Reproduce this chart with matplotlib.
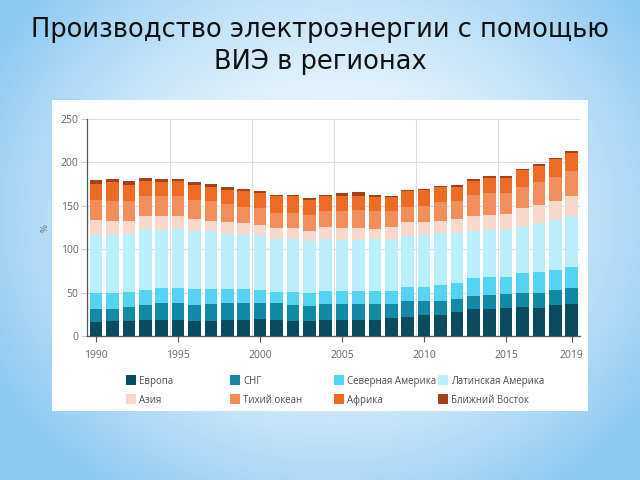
import numpy as np
import matplotlib
matplotlib.use("Agg")
import matplotlib.pyplot as plt
from matplotlib.patches import Rectangle

years = list(range(1990, 2020))
regions = ["Европа", "СНГ", "Северная Америка", "Латинская Америка",
           "Азия", "Тихий океан", "Африка", "Ближний Восток"]
colors = ["#0b4b5f", "#1489a6", "#56d2f2", "#bbeefb",
          "#f8d8ca", "#f28d5c", "#ee6b25", "#a4401a"]

europe = [16.5, 17, 17.7, 18.5, 18.5, 18.5, 17.7, 17.7, 18.5, 19, 20, 18.5, 17.7, 17, 18.5,
          18.5, 18.5, 19, 20.4, 22.3, 24, 24, 27.7, 30.8, 31.5, 32.3, 33, 32, 35.4, 37]
cis = [14.3, 14.5, 15.3, 17.3, 19.2, 19.2, 17.7, 19.3, 19.2, 18.7, 17.7, 19.2, 18.3, 17.6, 18.5,
       18.5, 18.5, 18, 16.6, 17.7, 16, 16, 15.3, 15.2, 15.8, 16.2, 17, 18, 17.6, 18]
north_america = [19.2, 17.5, 18, 17.2, 17.3, 17.3, 18.6, 17, 16.3, 16.3, 15.3, 13.3, 15, 15.4, 15,
                 15, 15, 15, 15, 17, 17, 19, 18.5, 20.5, 20.4, 20, 22.3, 23.8, 23, 24]
latin_america = [66.5, 67.5, 66, 70, 67, 68, 67.5, 67, 63, 62.5, 63, 60.5, 60.5, 59, 59.5,
                 58.8, 58.8, 59.5, 58.8, 58.4, 59.5, 59.5, 57, 54.5, 54.3, 53.5, 53.7, 56.2, 58, 59.5]
asia = [17.5, 16.5, 16, 15.5, 15.7, 15.5, 13.1, 12, 13.8, 13.5, 11.7, 12.5, 12.5, 12.5, 13.9,
        13.2, 13.2, 11.5, 14.6, 15.4, 14.3, 14.5, 16.1, 17.5, 17.6, 18.8, 21, 21, 21.8, 22.5]
pacific = [23, 23, 22, 22.5, 23.3, 22.5, 22.4, 22, 21.2, 19, 19.3, 18, 18, 18.1, 18.1,
           20, 20.6, 20.5, 18.1, 18.2, 19.2, 21, 20.4, 23.5, 25, 23.8, 24.5, 26, 27.2, 28.6]
africa = [18, 21.7, 18.5, 18, 16.7, 17, 17, 16.5, 16.5, 17.5, 17.6, 18.8, 18.8, 17.4, 17.3,
          16.8, 16.2, 16.1, 16.5, 17.5, 17.7, 17.5, 16.5, 17, 17.4, 17.4, 19.3, 19, 21, 21.2]
middle_east = [5, 3.3, 5, 3.3, 3.3, 3, 3, 3.1, 3, 2.5, 2.4, 2.2, 2.2, 2, 1.9,
               3.8, 4.6, 3.1, 0.8, 1.2, 1.3, 1.5, 2.5, 2, 2, 2, 1.5, 1.7, 1, 2.2]
series = [europe, cis, north_america, latin_america, asia, pacific, africa, middle_east]

xtick_years = [1990, 1995, 2000, 2005, 2010, 2015, 2019]
yticks = [0, 50, 100, 150, 200, 250]
title = "Производство электроэнергии с помощью\nВИЭ в регионах"

W, H = 640, 480
fig = plt.figure(figsize=(6.4, 4.8), dpi=100)

# background radial gradient
bg = fig.add_axes([0, 0, 1, 1], zorder=-10)
yy, xx = np.mgrid[0:H, 0:W]
r = np.sqrt(((xx - 330) / 380.0) ** 2 + ((yy - 215) / 330.0) ** 2)
t = np.clip(r, 0, 1) ** 1.6
c0 = np.array([0.97, 0.99, 1.0])
c1 = np.array([0.56, 0.79, 0.95])
img = c0[None, None, :] * (1 - t[..., None]) + c1[None, None, :] * t[..., None]
bg.imshow(img, extent=[0, W, H, 0], aspect="auto", interpolation="bilinear")
bg.set_xlim(0, W)
bg.set_ylim(H, 0)
bg.axis("off")

def fx(px):
    return px / W

def fy(py):
    return 1 - py / H

# white panel
fig.patches.append(Rectangle((fx(52), fy(411)), fx(588) - fx(52), fy(100) - fy(411),
                             transform=fig.transFigure, facecolor="white",
                             edgecolor="none", zorder=-5))

fig.text(0.5, fy(46), title, ha="center", va="center", fontsize=18.5,
         color="#111111", family="DejaVu Sans", linespacing=1.3)

small_font = "Open Sans"

ax = fig.add_axes([fx(87), fy(336), fx(580) - fx(87), fy(119) - fy(336)])
ax.set_facecolor("none")
x = np.array(years)
bottom = np.zeros(len(years))
for name, vals, col in zip(regions, series, colors):
    v = np.array(vals, dtype=float)
    ax.bar(x, v, bottom=bottom, width=0.77, color=col, label=name, zorder=3)
    bottom += v

ax.set_xlim(1989.45, 2019.5)
ax.set_ylim(0, 250)
ax.set_yticks(yticks)
ax.set_xticks(xtick_years)
ax.set_xticklabels([str(y) for y in xtick_years])
for gx in np.arange(1994.5, 2020, 5):
    ax.axvline(gx, color="#dddddd", lw=0.8, zorder=1)
ax.yaxis.grid(True, color="#dddddd", lw=0.8, zorder=1)
for s in ["top", "right"]:
    ax.spines[s].set_visible(False)
for s in ["left", "bottom"]:
    ax.spines[s].set_color("#555555")
    ax.spines[s].set_linewidth(0.9)
ax.tick_params(axis="y", length=4, color="#cccccc", labelsize=7.5, labelcolor="#666666", pad=2)
ax.tick_params(axis="x", length=4, color="#555555", labelsize=7.5, labelcolor="#666666", pad=6)
for lab in ax.get_xticklabels() + ax.get_yticklabels():
    lab.set_family(small_font)
ax.set_ylabel("%", fontsize=6, color="#666666", labelpad=8)

# legend (manual, row-major)
col_x = [131, 235, 339, 443]
row_y = [380, 399]
for i, (name, col) in enumerate(zip(regions, colors)):
    r_, c_ = divmod(i, 4)
    px, py = col_x[c_], row_y[r_]
    fig.patches.append(Rectangle((fx(px - 5), fy(py + 5)), 10 / W, 10 / H,
                                 transform=fig.transFigure, facecolor=col,
                                 edgecolor="none"))
    fig.text(fx(px + 8), fy(py + 3.7), name, ha="left", va="baseline", fontsize=6.9,
             color="#4d4d4d", family=small_font)

fig.savefig("out.png", dpi=100)
